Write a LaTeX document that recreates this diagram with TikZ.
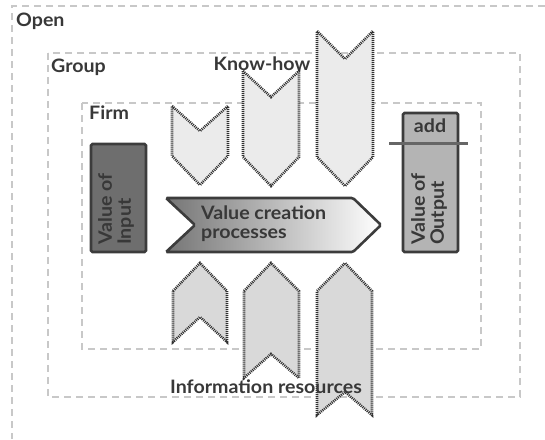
\documentclass[tikz,border=0pt]{standalone}
\usepackage{fontspec}
\setmainfont{Lato}[FakeStretch=1.06]
\begin{document}
\begin{tikzpicture}[x=1pt,y=-1pt,
  txt/.style={text=txtc,font=\bfseries\fontsize{18.5}{19}\selectfont,inner sep=0pt},
  zone/.style={draw=zonec,line width=1.1pt,dash pattern=on 7pt off 5pt},
  chevtop/.style={fill=chevtopc,draw=chevc,line width=2.6pt,dash pattern=on 1pt off 1pt},
  chevbot/.style={fill=chevbotc,draw=chevc,line width=2.6pt,dash pattern=on 1pt off 1pt},
  valbox/.style={draw=edgec,line width=2.6pt,rounded corners=1.5pt}]
\definecolor{txtc}{HTML}{383838}
\definecolor{zonec}{HTML}{C8C8C8}
\definecolor{chevtopc}{HTML}{EBEBEB}
\definecolor{chevbotc}{HTML}{D9D9D9}
\definecolor{chevc}{HTML}{303030}
\definecolor{edgec}{HTML}{3C3C3C}
\definecolor{inc}{HTML}{6E6E6E}
\definecolor{outc}{HTML}{B4B4B4}
\definecolor{linec}{HTML}{666666}
\definecolor{shadec}{HTML}{757575}
\useasboundingbox (0,0) rectangle (545,439);
% zones
\draw[zone] (545,6) -- (12,6) -- (12,439);
\draw[zone] (48,53) rectangle (520,397);
\draw[zone] (82,103) rectangle (481,349);
% top chevrons (pointing down)
\draw[chevtop] (172,106) -- (200,131) -- (228,106) -- (228,156) -- (200,185) -- (172,156) -- cycle;
\draw[chevtop] (243,71) -- (271,97) -- (299,71) -- (299,157) -- (271,186) -- (243,157) -- cycle;
\draw[chevtop] (317,31) -- (345,59) -- (373,31) -- (373,157) -- (345,186) -- (317,157) -- cycle;
% bottom chevrons (pointing up)
\draw[chevbot] (173,291) -- (200,263) -- (227,291) -- (227,342) -- (200,317) -- (173,342) -- cycle;
\draw[chevbot] (244,291) -- (271,263) -- (299,291) -- (299,378) -- (271,354) -- (244,378) -- cycle;
\draw[chevbot] (317,291) -- (345,263) -- (372,291) -- (372,415) -- (345,392) -- (317,415) -- cycle;
% value creation arrow
\draw[valbox,left color=shadec,right color=white] (166,198) -- (353,198) -- (381,225) -- (353,252) -- (166,252) -- (195,225) -- cycle;
% input / output boxes
\draw[valbox,fill=inc] (91,144) rectangle (146,252);
\draw[valbox,fill=outc] (403,113) rectangle (458,252);
\coordinate (addL) at (389,143);
\coordinate (addR) at (468,143);
\draw[draw=linec,line width=3pt] (addL) -- (addR);
% labels
\node[txt,anchor=base west] (open) at (16,26) {Open};
\node[txt,anchor=base west] (group) at (51,72) {Group};
\node[txt,anchor=base west] (firm) at (89,119) {Firm};
\node[txt,anchor=base] (know) at (262,70) {Know-how};
\node[txt,anchor=base] (info) at (266,393) {Information resources};
\node[txt,anchor=base] (add) at (430,132) {add};
\node[txt,anchor=west,align=left] (proc) at (201,224) {Value creation\\processes};
\node[txt,rotate=90,anchor=west,align=left] (input) at (116,245) {Value of\\Input};
\node[txt,rotate=90,anchor=west,align=left] (output) at (429,245) {Value of\\Output};
\end{tikzpicture}
\end{document}
